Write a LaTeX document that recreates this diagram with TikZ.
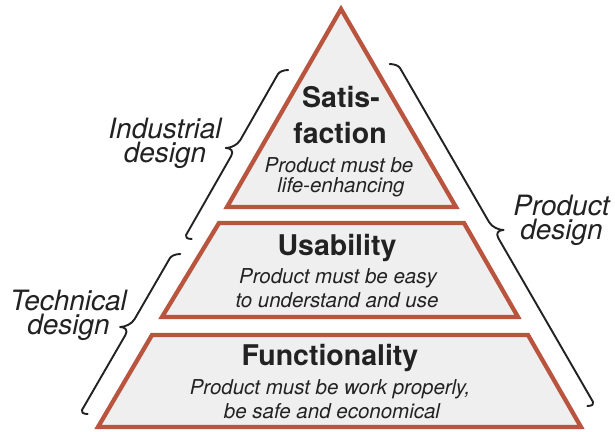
\documentclass[tikz,border=0pt]{standalone}
\usepackage{fontspec}
\setmainfont{TeX Gyre Heros}
\definecolor{tierred}{HTML}{B9553F}
\definecolor{tierfill}{HTML}{EFEFEF}
\definecolor{inkc}{HTML}{222222}
% #1 top x, #2 top y (screen px, downwards), #3 xslant, #4 length, #5 cusp offset, #6 direction (+1 right, -1 left)
\newcommand{\designbrace}[6]{%
\begin{scope}[shift={(#1,-#2)}, xslant=#3]
\draw[bracestyle] ({-1*(#6)*8},4) .. controls ({-1*(#6)*3},4) and (0,2) .. (0,0)
  -- (0,{-(#5)+8}) .. controls (0,{-(#5)+3}) and ({(#6)*5},{-(#5)}) .. ({(#6)*10},{-(#5)})
  .. controls ({(#6)*5},{-(#5)}) and (0,{-(#5)-3}) .. (0,{-(#5)-8})
  -- (0,{-(#4)}) .. controls (0,{-(#4)-2}) and ({-1*(#6)*3},{-(#4)-4}) .. ({-1*(#6)*8},{-(#4)-4});
\end{scope}}
\begin{document}
\begin{tikzpicture}[x=1pt,y=1pt,
  tier/.style={draw=tierred, fill=tierfill, line width=4.3pt, line join=miter},
  bracestyle/.style={draw=inkc, line width=1.9pt, line cap=round, line join=round},
  ttl/.style={anchor=base, inner sep=0pt, text=inkc, font=\fontsize{28.5}{30}\selectfont\bfseries},
  sub/.style={anchor=base, inner sep=0pt, text=inkc, font=\fontsize{20.5}{22}\selectfont\itshape},
  lbl/.style={anchor=center, align=center, inner sep=0pt, text=inkc, font=\fontsize{28}{24}\selectfont\itshape}]
\useasboundingbox (0,0) rectangle (615,-431);
\fill[white] (0,0) rectangle (615,-431);

% tiers
\draw[tier] (341,-9) -- (227,-207) -- (456,-207) -- cycle;
\draw[tier] (219,-223) -- (464,-223) -- (518,-317) -- (162,-317) -- cycle;
\draw[tier] (152,-335) -- (528,-335) -- (581,-427) -- (98,-427) -- cycle;

% texts in tiers
\node[ttl] (sat1) at (341,-107) {Satis-};
\node[ttl] (sat2) at (340,-143) {faction};
\node[sub] (sats1) at (339,-172) {Product must be};
\node[sub] (sats2) at (341,-192) {life-enhancing};

\node[ttl] (usa) at (337,-255) {Usability};
\node[sub] (usas1) at (338,-283) {Product must be easy};
\node[sub] (usas2) at (337,-307) {to understand and use};

\node[ttl] (fun) at (330,-365) {Functionality};
\node[sub] (funs1) at (330,-394) {Product must be work properly,};
\node[sub] (funs2) at (332,-418) {be safe and economical};

% braces
\designbrace{278}{74}{0.571}{161}{74}{-1}
\designbrace{170}{258}{0.579}{152}{69}{-1}
\designbrace{400}{68}{-0.578}{334}{162}{1}

% side labels
\node[lbl] (ind) at (165,-143) {Industrial\\design};
\node[lbl] (tec) at (68.5,-315) {Technical\\design};
\node[lbl] (pro) at (561.5,-220) {Product\\design};
\end{tikzpicture}
\end{document}
